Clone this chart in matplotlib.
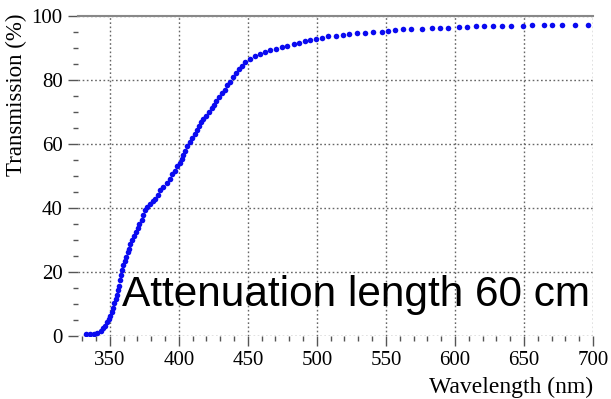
from matplotlib import pyplot
from matplotlib.ticker import MultipleLocator

# measured transmission curve
wavelength_nm = [333.1, 336.0, 338.6, 341.1, 343.3, 345.2, 346.9, 348.3, 349.5, 350.5,
                 351.4, 352.4, 353.4, 354.3, 355.3, 356.0, 356.8, 357.5, 358.2, 358.9,
                 359.9, 360.9, 361.8, 363.0, 364.0, 365.0, 366.2, 367.4, 368.8, 370.3,
                 371.5, 373.0, 373.9, 375.6, 377.3, 379.2, 381.0, 382.8, 385.0, 386.7,
                 388.6, 391.1, 393.5, 395.4, 397.1, 398.8, 400.7, 402.0, 403.1, 404.6,
                 406.3, 408.0, 409.9, 411.6, 413.3, 414.7, 415.9, 417.6, 419.6, 422.0,
                 423.7, 425.6, 427.3, 429.4, 431.4, 433.3, 435.0, 437.0, 439.3, 441.3,
                 443.5, 445.9, 448.3, 451.4, 455.1, 458.7, 462.3, 466.4, 470.3, 474.4,
                 478.5, 483.6, 487.2, 491.3, 494.9, 499.3, 503.4, 508.2, 513.8, 518.6,
                 523.4, 528.8, 534.8, 540.8, 546.9, 551.7, 556.5, 562.6, 567.9, 575.9,
                 583.1, 589.1, 595.1, 603.1, 609.0, 615.2, 621.2, 627.8, 633.8, 640.3,
                 649.0, 655.7, 664.5, 670.0, 677.7, 687.0, 696.6]
transmission_pct = [0.6, 0.6, 0.6, 1.0, 1.7, 2.4, 3.2, 4.3, 5.3, 6.3,
                    7.6, 8.9, 10.3, 11.5, 12.9, 14.3, 15.7, 17.4, 19.0, 20.7,
                    22.1, 23.5, 24.8, 26.1, 27.3, 28.7, 30.0, 31.2, 32.6, 33.9,
                    34.9, 36.4, 37.7, 39.3, 40.4, 41.4, 42.2, 42.9, 44.2, 45.5,
                    46.6, 47.9, 49.2, 50.5, 51.7, 53.1, 54.1, 55.4, 56.7, 57.9,
                    59.3, 60.7, 61.9, 63.2, 64.3, 65.5, 66.9, 67.8, 68.8, 69.9,
                    71.2, 72.3, 73.3, 74.6, 75.8, 76.9, 78.3, 79.5, 80.9, 82.1,
                    83.4, 84.5, 85.6, 86.6, 87.5, 88.2, 88.8, 89.4, 89.7, 90.2,
                    90.7, 91.3, 91.7, 92.1, 92.4, 92.7, 93.2, 93.6, 93.9, 94.1,
                    94.4, 94.6, 94.8, 94.9, 95.1, 95.3, 95.5, 95.8, 95.8, 96.0,
                    96.2, 96.2, 96.2, 96.7, 96.7, 96.8, 96.8, 96.9, 96.9, 96.9,
                    97.0, 97.1, 97.2, 97.2, 97.2, 97.3, 97.3]

x_ticks = [350, 400, 450, 500, 550, 600, 650, 700]
y_ticks = [0, 20, 40, 60, 80, 100]
label_text = 'Attenuation length 60 cm'

serif = 'Liberation Serif'

fig = pyplot.figure(figsize=(6.11, 3.99), dpi=100)
ax = fig.add_axes([78 / 611, 1 - 336 / 399, (593 - 78) / 611, (336 - 16) / 399])

ax.plot(wavelength_nm, transmission_pct, linestyle='none', marker='o',
        markersize=4.0, color='#0a0af0', markeredgewidth=0, zorder=3)

ax.set_xlim(327, 700)
ax.set_ylim(0, 100)
ax.set_xticks(x_ticks)
ax.set_yticks(y_ticks)
ax.xaxis.set_minor_locator(MultipleLocator(10))
ax.yaxis.set_minor_locator(MultipleLocator(5))

# dotted grid, only the top frame drawn solid
ax.grid(True, which='major', linestyle=(0, (1.2, 1.8)), color='#666666', linewidth=1.0)
for side in ['left', 'right', 'bottom']:
    ax.spines[side].set_visible(False)
ax.spines['top'].set_color('#888888')
ax.spines['top'].set_linewidth(1.5)

ax.tick_params(axis='both', which='major', direction='out', length=7, width=1,
               color='#555555', labelsize=15, labelcolor='black', pad=4)
ax.tick_params(axis='both', which='minor', direction='out', length=3.5, width=1,
               color='#555555')
ax.tick_params(axis='x', which='both', top=False)
ax.tick_params(axis='y', which='both', right=False)
for lab in ax.get_xticklabels() + ax.get_yticklabels():
    lab.set_fontfamily(serif)

fig.text(593 / 611, 1 - 387 / 399, 'Wavelength (nm)', family=serif, fontsize=17,
         ha='right', va='center')
fig.text(16 / 611, 1 - 95 / 399, 'Transmission (%)', family=serif, fontsize=16.5,
         rotation=90, ha='center', va='center')

fig.text(122 / 611, 1 - 306 / 399, label_text, family='Liberation Sans', fontsize=30.5,
         ha='left', va='baseline', color='black', zorder=5)

fig.savefig('out.png', dpi=100)
